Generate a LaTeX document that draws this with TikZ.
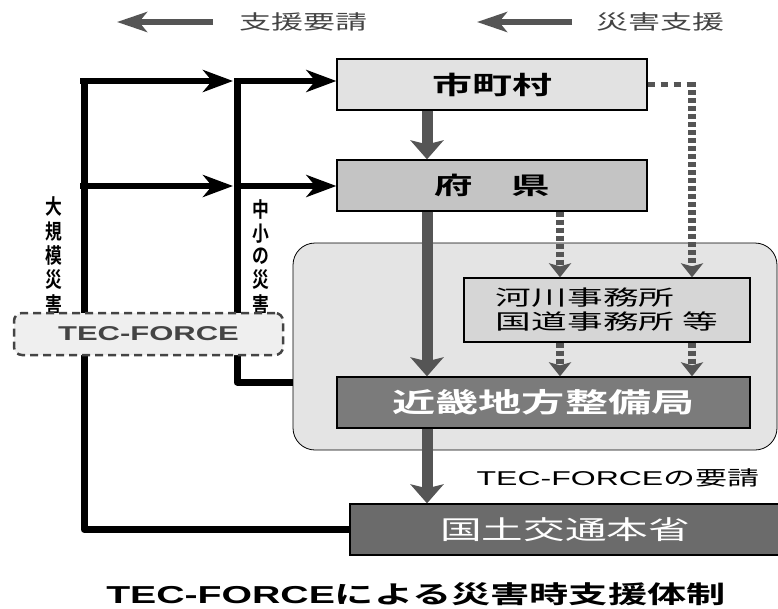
\documentclass[tikz,border=0pt]{standalone}
\usepackage{fontspec}
\usepackage{graphicx}
\setmainfont{Liberation Sans}
\newfontfamily\jp{Noto Sans CJK JP}[BoldFont={Noto Sans CJK JP Bold}]
\usetikzlibrary{arrows.meta,calc}
\newcommand\sx[2][1.6]{\scalebox{#1}[1]{#2}}
\definecolor{supc}{HTML}{555555}
\definecolor{dk}{HTML}{444444}
\definecolor{cm}{HTML}{E2E2E2}
\definecolor{cp}{HTML}{C4C4C4}
\definecolor{ck}{HTML}{D6D6D6}
\definecolor{cr}{HTML}{7B7B7B}
\definecolor{ch}{HTML}{6B6B6B}
\definecolor{creg}{HTML}{E4E4E4}
\definecolor{ctf}{HTML}{EFEFEF}
\begin{document}
\begin{tikzpicture}[x=1pt,y=-1pt,
  box/.style={draw=black, line width=1.3pt, inner sep=0pt, minimum height=51pt},
  reqln/.style={draw=black, line width=7pt, line join=round},
  reqar/.style={draw=black, line width=6pt, -{Stealth[length=30pt,width=22pt,inset=9pt]}},
  suparr/.style={draw=supc, line width=11pt, -{Stealth[length=19pt,width=33pt,inset=4pt]}},
  dotarr/.style={draw=supc, line width=8pt, dash pattern=on 5pt off 3pt, -{Stealth[length=14pt,width=22pt,inset=3pt]}},
  legar/.style={draw=supc, line width=6pt, -{Stealth[length=30pt,width=20pt,inset=8pt]}},
  vlab/.style={inner sep=0pt, font=\jp\bfseries\fontsize{21}{22}\selectfont}
]
\useasboundingbox (0,0) rectangle (778,608);

% legend
\coordinate (l1s) at (213,22); \coordinate (l1e) at (117,22);
\coordinate (l2s) at (572,22); \coordinate (l2e) at (477,22);
\draw[legar] (l1s) -- (l1e);
\draw[legar] (l2s) -- (l2e);
\node[text=dk, font=\jp\fontsize{20}{20}\selectfont] (lt1) at (303,22) {\sx{支援要請}};
\node[text=dk, font=\jp\fontsize{20}{20}\selectfont] (lt2) at (660,22) {\sx{災害支援}};

% region
\node[draw=black, line width=0.8pt, fill=creg, rounded corners=22pt, minimum width=484pt, minimum height=207pt] (reg) at (535,346.5) {};

% boxes
\node[box, fill=cm, minimum width=310pt] (m) at (492,84.5) {\jp\bfseries\fontsize{25}{25}\selectfont\sx{市町村}};
\node[box, fill=cp, minimum width=310pt] (p) at (492,185.5) {\jp\bfseries\fontsize{24}{24}\selectfont\sx{府　県}};
\node[box, fill=ck, minimum width=286pt, minimum height=64pt, align=left, font=\jp\fontsize{21}{24}\selectfont] (k) at (607,310) {\sx[1.7]{河川事務所}\\\sx[1.7]{国道事務所 等}};
\node[box, fill=cr, minimum width=413pt, text=white] (r) at (543.5,402.5) {\jp\bfseries\fontsize{27}{27}\selectfont\sx{近畿地方整備局}};
\node[box, fill=ch, minimum width=430pt, text=white] (h) at (565,529.5) {\jp\fontsize{26}{26}\selectfont\sx{国土交通本省}};

% request lines (black)
\coordinate (t1) at (84,78);
\coordinate (t2) at (237,78);
\coordinate (bj) at (293,382);
\draw[reqln] (t1) -- (t1 |- h.west) -- (h.west);
\draw[reqln] (t2) -- (t2 |- bj) -- (bj);
\coordinate (a1) at (80,81); \coordinate (a2) at (80,186);
\coordinate (b1) at (233,81); \coordinate (b2) at (233,186);
\coordinate (c1) at (240,81); \coordinate (c2) at (240,186);
\draw[reqar] (a1) -- (b1);
\draw[reqar] (a2) -- (b2);
\draw[reqar] (c1) -- (c1 -| m.west);
\draw[reqar] (c2) -- (c2 -| p.west);

% vertical labels
\node[vlab] (v1) at (54,258) {\scalebox{0.8}[1]{\begin{tabular}{@{}c@{}}大\\規\\模\\災\\害\end{tabular}}};
\node[vlab] (v2) at (261,259) {\scalebox{0.8}[1]{\begin{tabular}{@{}c@{}}中\\小\\の\\災\\害\end{tabular}}};

% TEC-FORCE dashed box
\node[draw=dk, dash pattern=on 8pt off 5pt, line width=2.5pt, fill=ctf, rounded corners=8pt, minimum width=269pt, minimum height=42pt, text=dk, font=\bfseries\fontsize{20}{20}\selectfont] (tf) at (148.5,334) {\sx[1.55]{TEC-FORCE}};

% support arrows (gray)
\coordinate (gx) at (427,0);
\draw[suparr] (gx |- m.south) -- (gx |- p.north);
\draw[suparr] (gx |- p.south) -- (gx |- r.north);
\draw[suparr] (gx |- r.south) -- (gx |- h.north);

% dotted support arrows
\coordinate (dx1) at (560,0);
\coordinate (dx2) at (692,0);
\draw[draw=supc, line width=5pt, dash pattern=on 7pt off 6pt] (m.east) -- ($(dx2 |- m.east)+(4,0)$);
\draw[dotarr] ($(dx2 |- m.east)+(0,-2.5)$) -- (dx2 |- k.north);
\draw[dotarr] (dx1 |- p.south) -- (dx1 |- k.north);
\draw[dotarr] (dx1 |- k.south) -- (dx1 |- r.north);
\draw[dotarr] (dx2 |- k.south) -- (dx2 |- r.north);

% labels
\node[font=\fontsize{20}{20}\selectfont] (lreq) at (618,478) {\sx{TEC-FORCE{\jp の要請}}};
\node[font=\bfseries\fontsize{24.5}{24.5}\selectfont] (title) at (416,594) {\sx{TEC-FORCE{\jp による災害時支援体制}}};
\end{tikzpicture}
\end{document}
